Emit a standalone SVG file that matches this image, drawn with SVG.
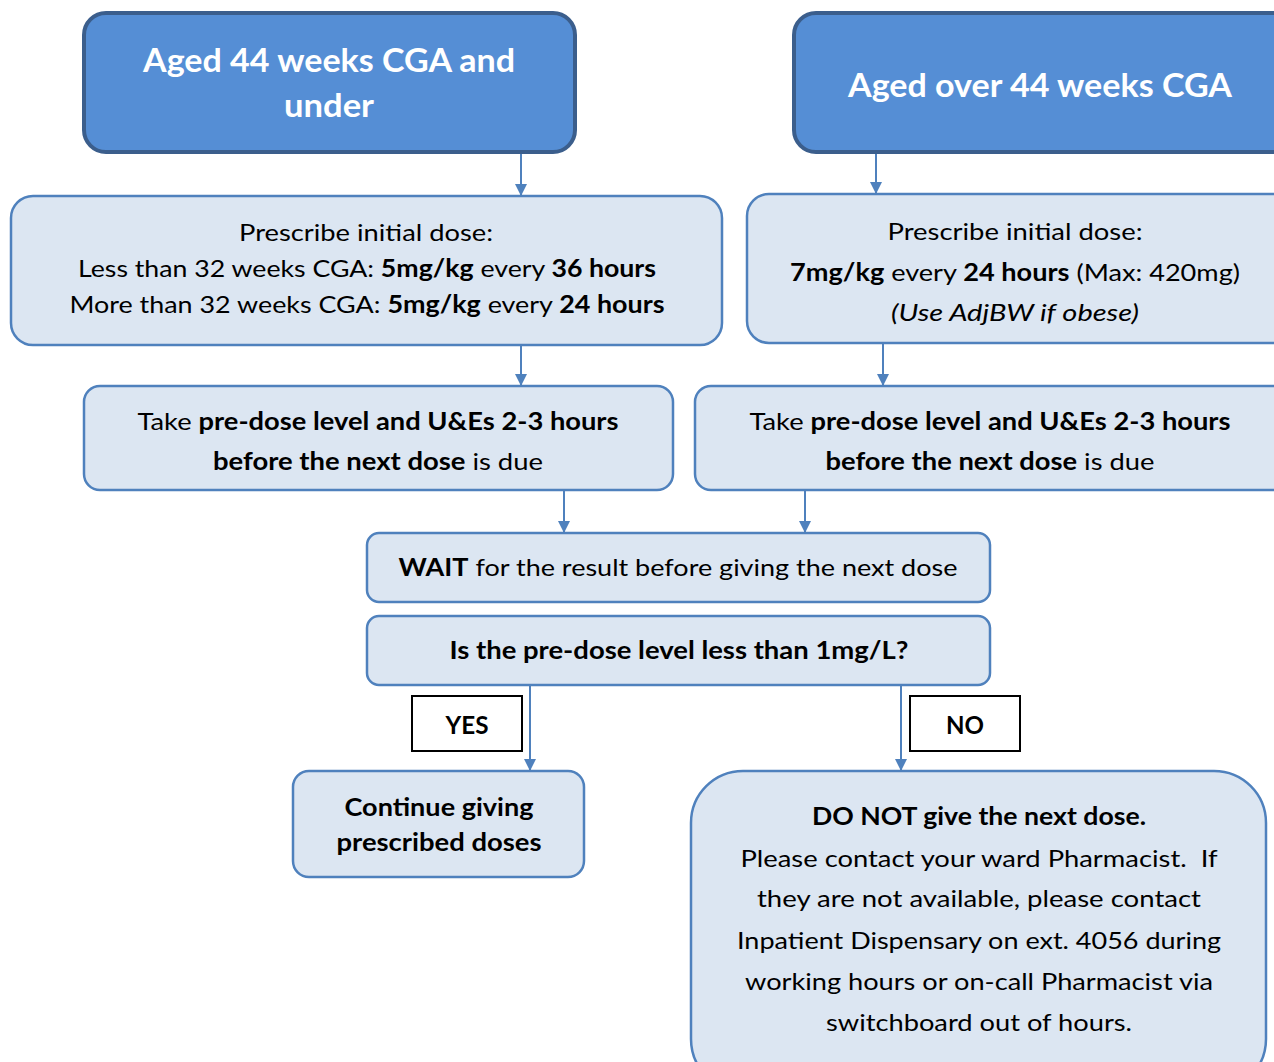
<svg xmlns="http://www.w3.org/2000/svg" width="1274" height="1062" viewBox="0 0 1274 1062">
  <style>
    text { font-family: Lato, "Open Sans", "Liberation Sans", sans-serif; fill: #000; text-anchor: middle; }
    .head { fill: #558ED5; stroke: #3B5E8C; stroke-width: 4; }
    .head-t { fill: #fff; font-weight: bold; font-size: 33px; }
    .step { fill: #DCE6F2; stroke: #4F81BD; stroke-width: 2.5; }
    .body { font-size: 24px; }
    .tag { fill: #fff; stroke: #000; stroke-width: 2; }
    b, .b { font-weight: bold; }
    .link { stroke: #4F81BD; stroke-width: 2; fill: none; marker-end: url(#arrow); }
  </style>
  <defs>
    <marker id="arrow" markerUnits="userSpaceOnUse" markerWidth="14" markerHeight="14" refX="12" refY="6" orient="auto">
      <path d="M0,0 L12,6 L0,12 Z" fill="#4F81BD"/>
    </marker>
  </defs>
  <rect width="1274" height="1062" fill="#fff"/>

  <!-- connectors -->
  <g id="connectors">
    <line class="link" x1="521" y1="153" x2="521" y2="196"/>
    <line class="link" x1="876" y1="153" x2="876" y2="194"/>
    <line class="link" x1="521" y1="346" x2="521" y2="386"/>
    <line class="link" x1="883" y1="344" x2="883" y2="386"/>
    <line class="link" x1="564" y1="491" x2="564" y2="533"/>
    <line class="link" x1="805" y1="491" x2="805" y2="533"/>
    <line class="link" x1="530" y1="686" x2="530" y2="771"/>
    <line class="link" x1="901" y1="686" x2="901" y2="771"/>
  </g>

  <!-- age group headers -->
  <g id="age-under-44">
    <rect class="head" x="84" y="13" width="491" height="139" rx="22"/>
    <text class="head-t" x="329" y="72" textLength="372" lengthAdjust="spacingAndGlyphs">Aged 44 weeks CGA and</text>
    <text class="head-t" x="329" y="117" textLength="90" lengthAdjust="spacingAndGlyphs">under</text>
  </g>
  <g id="age-over-44">
    <rect class="head" x="794" y="13" width="520" height="139" rx="22"/>
    <text class="head-t" x="1040" y="97" textLength="384" lengthAdjust="spacingAndGlyphs">Aged over 44 weeks CGA</text>
  </g>

  <!-- initial doses -->
  <g id="dose-under-44">
    <rect class="step" x="11" y="196" width="711" height="149" rx="22"/>
    <text class="body" x="366" y="241" textLength="254" lengthAdjust="spacingAndGlyphs">Prescribe initial dose:</text>
    <text class="body" x="367" y="277" textLength="578" lengthAdjust="spacingAndGlyphs">Less than 32 weeks CGA: <tspan class="b">5mg/kg</tspan> every <tspan class="b">36 hours</tspan></text>
    <text class="body" x="367" y="313" textLength="595" lengthAdjust="spacingAndGlyphs">More than 32 weeks CGA: <tspan class="b">5mg/kg</tspan> every <tspan class="b">24 hours</tspan></text>
  </g>
  <g id="dose-over-44">
    <rect class="step" x="747" y="194" width="560" height="149" rx="22"/>
    <text class="body" x="1015" y="240" textLength="255" lengthAdjust="spacingAndGlyphs">Prescribe initial dose:</text>
    <text class="body" x="1015" y="281" textLength="450" lengthAdjust="spacingAndGlyphs"><tspan class="b">7mg/kg</tspan> every <tspan class="b">24 hours</tspan> (Max: 420mg)</text>
    <text class="body" x="1015" y="321" font-style="italic" textLength="248" lengthAdjust="spacingAndGlyphs">(Use AdjBW if obese)</text>
  </g>

  <!-- pre-dose level -->
  <g id="level-under-44">
    <rect class="step" x="84" y="386" width="589" height="104" rx="16"/>
    <text class="body" x="378" y="430" textLength="481" lengthAdjust="spacingAndGlyphs">Take <tspan class="b">pre-dose level and U&amp;Es 2-3 hours</tspan></text>
    <text class="body" x="378" y="470" textLength="330" lengthAdjust="spacingAndGlyphs"><tspan class="b">before the next dose</tspan> is due</text>
  </g>
  <g id="level-over-44">
    <rect class="step" x="695" y="386" width="600" height="104" rx="16"/>
    <text class="body" x="990" y="430" textLength="481" lengthAdjust="spacingAndGlyphs">Take <tspan class="b">pre-dose level and U&amp;Es 2-3 hours</tspan></text>
    <text class="body" x="990" y="470" textLength="329" lengthAdjust="spacingAndGlyphs"><tspan class="b">before the next dose</tspan> is due</text>
  </g>

  <!-- wait and check -->
  <g id="wait">
    <rect class="step" x="367" y="533" width="623" height="69" rx="12"/>
    <text class="body" x="678" y="576" textLength="559" lengthAdjust="spacingAndGlyphs"><tspan class="b">WAIT</tspan> for the result before giving the next dose</text>
  </g>
  <g id="check-level">
    <rect class="step" x="367" y="616" width="623" height="69" rx="12"/>
    <text class="body b" x="679" y="659" textLength="459" lengthAdjust="spacingAndGlyphs">Is the pre-dose level less than 1mg/L?</text>
  </g>

  <!-- branch labels -->
  <g id="label-yes">
    <rect class="tag" x="412" y="696" width="110" height="55"/>
    <text class="body b" x="467" y="734" textLength="43" lengthAdjust="spacingAndGlyphs">YES</text>
  </g>
  <g id="label-no">
    <rect class="tag" x="910" y="696" width="110" height="55"/>
    <text class="body b" x="965" y="734" textLength="38" lengthAdjust="spacingAndGlyphs">NO</text>
  </g>

  <!-- outcomes -->
  <g id="continue">
    <rect class="step" x="293" y="771" width="291" height="106" rx="16"/>
    <text class="body b" x="439" y="816" textLength="189" lengthAdjust="spacingAndGlyphs">Continue giving</text>
    <text class="body b" x="439" y="851" textLength="205" lengthAdjust="spacingAndGlyphs">prescribed doses</text>
  </g>
  <g id="do-not-give">
    <rect class="step" x="691" y="771" width="575" height="320" rx="52"/>
    <text class="body b" x="979" y="825" textLength="334" lengthAdjust="spacingAndGlyphs">DO NOT give the next dose.</text>
    <text class="body" x="979" y="867" textLength="477" lengthAdjust="spacingAndGlyphs" xml:space="preserve">Please contact your ward Pharmacist.  If</text>
    <text class="body" x="979" y="907" textLength="444" lengthAdjust="spacingAndGlyphs">they are not available, please contact</text>
    <text class="body" x="979" y="949" textLength="484" lengthAdjust="spacingAndGlyphs">Inpatient Dispensary on ext. 4056 during</text>
    <text class="body" x="979" y="990" textLength="468" lengthAdjust="spacingAndGlyphs">working hours or on-call Pharmacist via</text>
    <text class="body" x="979" y="1031" textLength="306" lengthAdjust="spacingAndGlyphs">switchboard out of hours.</text>
  </g>
</svg>
